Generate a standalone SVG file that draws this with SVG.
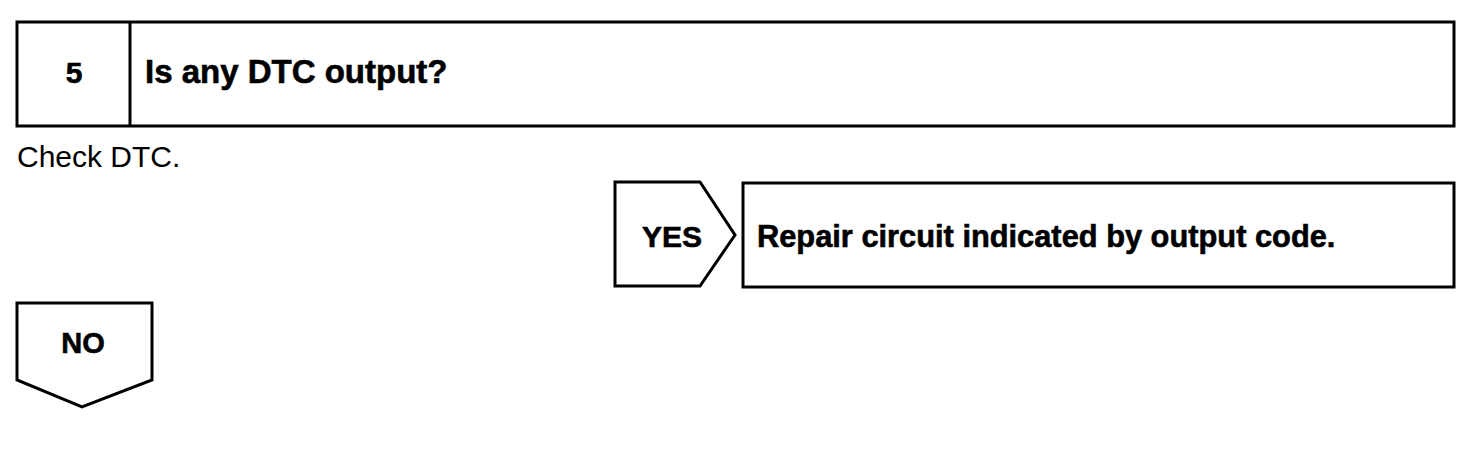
<svg xmlns="http://www.w3.org/2000/svg" width="1472" height="470" viewBox="0 0 1472 470">
<style>
.box{fill:#fff;stroke:#000;stroke-width:3;stroke-linejoin:miter}
.b{font-family:"Liberation Sans",Arial,sans-serif;font-weight:bold;fill:#000;stroke:#000;stroke-width:0.6}
.r{font-family:"Liberation Sans",Arial,sans-serif;fill:#000}
</style>
<rect width="1472" height="470" fill="#fff"/>
<g id="step5">
<rect class="box" x="17" y="22" width="1437" height="104"/>
<line x1="130" y1="22" x2="130" y2="126" stroke="#000" stroke-width="3"/>
<text class="b" x="74" y="83" font-size="30" text-anchor="middle">5</text>
<text class="b" x="145" y="83" font-size="33">Is any DTC output?</text>
</g>
<g id="note">
<text class="r" x="17" y="167" font-size="30">Check DTC.</text>
</g>
<g id="connectors">
<g id="yes">
<polygon class="box" points="615,182 700,182 735,235 700,286 615,286"/>
<text class="b" x="672" y="247" font-size="30" text-anchor="middle">YES</text>
</g>
<g id="no">
<polygon class="box" points="17,303 152,303 152,380 82,407 17,380"/>
<text class="b" x="83" y="353" font-size="29" text-anchor="middle">NO</text>
</g>
</g>
<g id="repair">
<rect class="box" x="743" y="183" width="711" height="104"/>
<text class="b" x="757" y="247" font-size="30.8">Repair circuit indicated by output code.</text>
</g>
</svg>
